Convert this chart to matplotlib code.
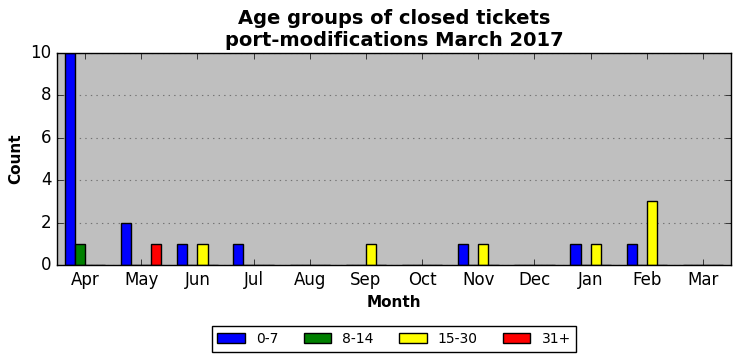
import matplotlib

matplotlib.use("Agg")
import matplotlib.pyplot as plt
import numpy as np

months = ["Apr", "May", "Jun", "Jul", "Aug", "Sep", "Oct", "Nov", "Dec", "Jan", "Feb", "Mar"]
age_groups = ["0-7", "8-14", "15-30", "31+"]
colors = ["blue", "green", "yellow", "red"]

counts_0_7 = [10, 2, 1, 1, 0, 0, 0, 1, 0, 1, 1, 0]
counts_8_14 = [1, 0, 0, 0, 0, 0, 0, 0, 0, 0, 0, 0]
counts_15_30 = [0, 0, 1, 0, 0, 1, 0, 1, 0, 1, 3, 0]
counts_31_plus = [0, 1, 0, 0, 0, 0, 0, 0, 0, 0, 0, 0]
series = [counts_0_7, counts_8_14, counts_15_30, counts_31_plus]

plt.style.use("classic")

figure = plt.figure(figsize=(7.4, 3.61), dpi=100)
axes = figure.add_axes([0.077, 0.266, 0.911, 0.587])
axes.set_facecolor("0.75")

x = np.arange(len(months))
width = 0.18
for index, (label, values, color) in enumerate(zip(age_groups, series, colors)):
    axes.bar(
        x + (index - 2) * width,
        values,
        width,
        align="edge",
        color=color,
        edgecolor="black",
        linewidth=1.0,
        label=label,
    )

axes.set_xlim(-0.5, len(months) - 0.5)
axes.set_ylim(0, 10)
axes.set_xticks(x)
axes.set_xticklabels(months, fontsize=12)
axes.set_yticks(range(0, 11, 2))
axes.tick_params(axis="y", labelsize=12)
axes.yaxis.grid(True, linestyle=":", color="0.45", linewidth=0.8)
axes.set_axisbelow(True)

axes.set_title(
    "Age groups of closed tickets\nport-modifications March 2017",
    fontsize=14,
    fontweight="bold",
)
axes.set_xlabel("Month", fontsize=11, fontweight="bold")
axes.set_ylabel("Count", fontsize=11, fontweight="bold")

axes.legend(
    loc="upper center",
    bbox_to_anchor=(0.5, -0.29),
    ncol=4,
    fontsize=10,
    handlelength=2.0,
    columnspacing=1.8,
    borderaxespad=0,
)

figure.savefig("out.png", dpi=100)
